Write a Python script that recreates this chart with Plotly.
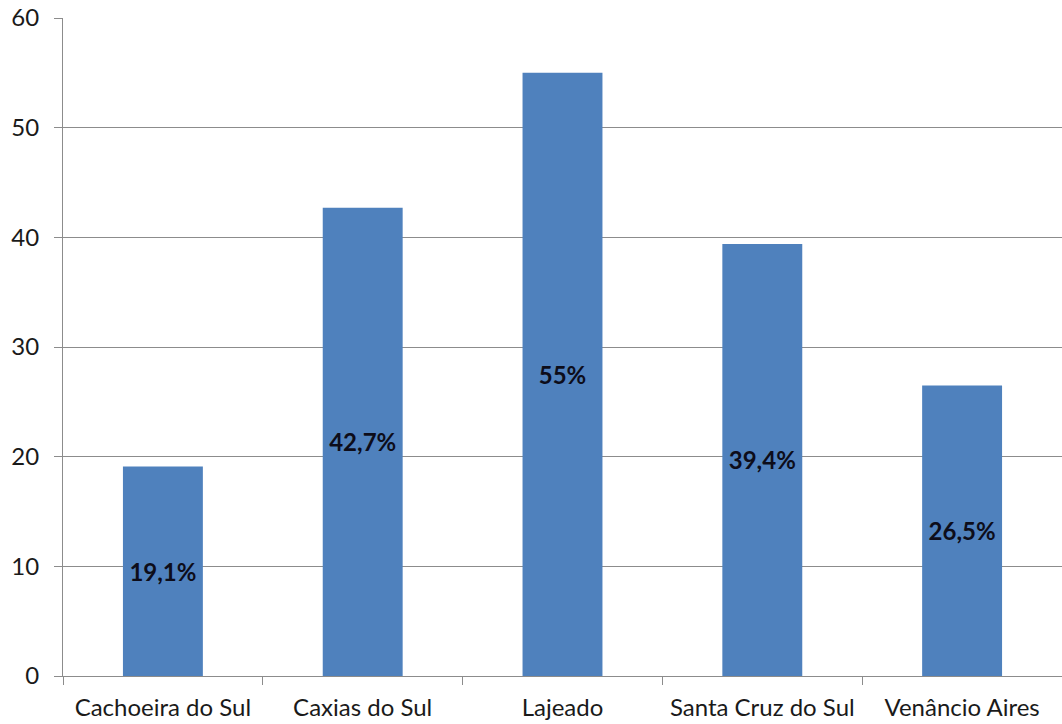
import plotly.graph_objects as go

# Municipalities and their percentages
cidades = ["Cachoeira do Sul", "Caxias do Sul", "Lajeado", "Santa Cruz do Sul", "Venâncio Aires"]
percentuais = [19.1, 42.7, 55, 39.4, 26.5]
y_ticks = [0, 10, 20, 30, 40, 50, 60]


def rotulo(v):
    # Portuguese decimal comma, no decimals for whole numbers
    if float(v).is_integer():
        return f"{int(v)}%"
    return f"{v:.1f}".replace(".", ",") + "%"


textos = [rotulo(v) for v in percentuais]

FONT = "Lato, 'Open Sans', sans-serif"

fig = go.Figure(
    go.Bar(
        x=cidades,
        y=percentuais,
        text=textos,
        textposition="inside",
        insidetextanchor="middle",
        textangle=0,
        textfont=dict(family=FONT, size=24, color="#0d0d1a", weight="bold"),
        marker=dict(color="#4F81BD", line=dict(width=0)),
        cliponaxis=False,
    )
)

fig.update_layout(
    width=1062,
    height=724,
    margin=dict(l=63, r=0, t=18, b=48, autoexpand=False),
    paper_bgcolor="white",
    plot_bgcolor="white",
    bargap=0.6,
    showlegend=False,
    font=dict(family=FONT, size=24, color="#1a1a1a"),
    uniformtext=dict(mode=False),
)

fig.update_xaxes(
    type="category",
    automargin=False,
    tickangle=0,
    showgrid=False,
    showline=True,
    linecolor="#8c8c8c",
    linewidth=1,
    ticks="outside",
    tickson="boundaries",
    ticklen=8,
    tickcolor="#8c8c8c",
    tickfont=dict(family=FONT, size=24, color="#1a1a1a"),
    ticklabelstandoff=10,
    zeroline=False,
)

fig.update_yaxes(
    range=[0, 60],
    automargin=False,
    tickvals=y_ticks,
    showgrid=True,
    gridcolor="#8c8c8c",
    gridwidth=1,
    showline=True,
    linecolor="#8c8c8c",
    linewidth=1,
    ticks="outside",
    ticklen=8,
    tickcolor="#8c8c8c",
    tickfont=dict(family=FONT, size=24, color="#1a1a1a"),
    ticklabelstandoff=10,
    zeroline=False,
)

fig.write_html("out.html")
